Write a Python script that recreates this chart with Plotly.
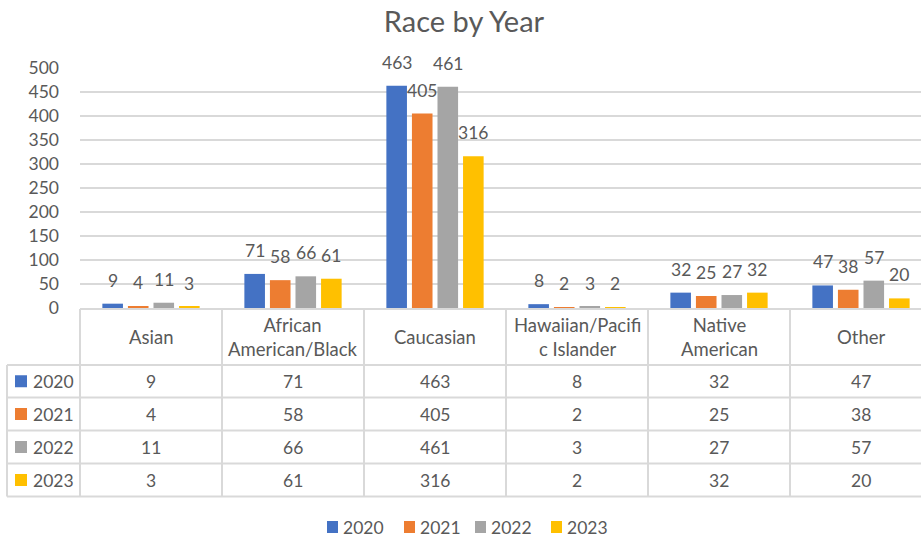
import plotly.graph_objects as go

# ---- data ----
categories = ["Asian", "African American/Black", "Caucasian",
              "Hawaiian/Pacific Islander", "Native American", "Other"]
header_labels = ["Asian", "African<br>American/Black", "Caucasian",
                 "Hawaiian/Pacifi<br>c Islander", "Native<br>American", "Other"]
years = ["2020", "2021", "2022", "2023"]
v2020 = [9, 71, 463, 8, 32, 47]
v2021 = [4, 58, 405, 2, 25, 38]
v2022 = [11, 66, 461, 3, 27, 57]
v2023 = [3, 61, 316, 2, 32, 20]
y_ticks = list(range(0, 501, 50))

series = [v2020, v2021, v2022, v2023]
colors = ["#4472C4", "#ED7D31", "#A5A5A5", "#FFC000"]
TEXT = "#595959"
LINE = "#D9D9D9"
FONT = "Lato"

W, H = 921, 540
ML, MR, MT, MB = 80, 0, 68, 232
plot_w = W - ML - MR
plot_h = H - MT - MB

# x axis: one unit per category, right edge of the last column runs past the page
unit_px = 142.0
x_min = -0.5
x_max = x_min + plot_w / unit_px

bar_w = 0.145
bar_step = 0.18
first_off = -0.3425


def px2x(px):
    return (px - ML) / plot_w


def py2y(py):
    return (H - MB - py) / plot_h


def cat_edge(i):
    # paper x of the left border of category column i
    return (i - 0.5 - x_min) / (x_max - x_min)


def cat_center(i):
    return (i - x_min) / (x_max - x_min)


fig = go.Figure()
xs = list(range(len(categories)))
for k, (yr, vals) in enumerate(zip(years, series)):
    fig.add_trace(go.Bar(
        x=xs, y=vals, name=yr,
        width=bar_w, offset=first_off + k * bar_step,
        marker=dict(color=colors[k], line=dict(width=0)),
        hoverinfo="skip", showlegend=False,
    ))

annotations = []
shapes = []

# value labels above the bars
for k, vals in enumerate(series):
    for i, v in enumerate(vals):
        annotations.append(dict(
            x=i + first_off + k * bar_step + bar_w / 2, y=v,
            xref="x", yref="y", text=str(v), showarrow=False,
            yanchor="bottom", yshift=11,
            font=dict(family=FONT, size=17.5, color=TEXT),
        ))

# data table below the plot
row_edges = [309, 365, 397.5, 430.5, 463.5, 496.5]
table_left = 7
n = len(categories)
right_edge = cat_edge(n)

# horizontal rules
for j, py in enumerate(row_edges):
    x0 = px2x(ML) if j == 0 else px2x(table_left)
    shapes.append(dict(type="line", xref="paper", yref="paper",
                       x0=x0, x1=right_edge, y0=py2y(py), y1=py2y(py),
                       line=dict(color=LINE, width=2)))
# vertical rules
for i in range(n + 1):
    shapes.append(dict(type="line", xref="paper", yref="paper",
                       x0=cat_edge(i), x1=cat_edge(i),
                       y0=py2y(row_edges[0]), y1=py2y(row_edges[-1]),
                       line=dict(color=LINE, width=2)))
shapes.append(dict(type="line", xref="paper", yref="paper",
                   x0=px2x(table_left), x1=px2x(table_left),
                   y0=py2y(row_edges[1]), y1=py2y(row_edges[-1]),
                   line=dict(color=LINE, width=2)))

# header cells
hdr_mid = (row_edges[0] + row_edges[1]) / 2
for i, lab in enumerate(header_labels):
    annotations.append(dict(
        x=cat_center(i), y=py2y(hdr_mid), xref="paper", yref="paper",
        text=lab, showarrow=False, xanchor="center", yanchor="middle",
        font=dict(family=FONT, size=18.5, color=TEXT),
    ))

# value rows with year keys
for k, (yr, vals) in enumerate(zip(years, series)):
    mid = (row_edges[k + 1] + row_edges[k + 2]) / 2
    shapes.append(dict(type="rect", xref="paper", yref="paper",
                       x0=px2x(15), x1=px2x(27),
                       y0=py2y(mid - 6), y1=py2y(mid + 6),
                       fillcolor=colors[k], line=dict(width=0)))
    annotations.append(dict(
        x=px2x(31), y=py2y(mid), xref="paper", yref="paper",
        text=yr, showarrow=False, xanchor="left", yanchor="middle",
        font=dict(family=FONT, size=17.5, color=TEXT),
    ))
    for i, v in enumerate(vals):
        annotations.append(dict(
            x=cat_center(i), y=py2y(mid), xref="paper", yref="paper",
            text=str(v), showarrow=False, xanchor="center", yanchor="middle",
            font=dict(family=FONT, size=17.5, color=TEXT),
        ))

# legend row along the bottom
legend_x = [327, 404, 475, 551]
legend_y = 527
for k, yr in enumerate(years):
    x0 = legend_x[k]
    shapes.append(dict(type="rect", xref="paper", yref="paper",
                       x0=px2x(x0), x1=px2x(x0 + 11),
                       y0=py2y(legend_y - 6), y1=py2y(legend_y + 6),
                       fillcolor=colors[k], line=dict(width=0)))
    annotations.append(dict(
        x=px2x(x0 + 14), y=py2y(legend_y), xref="paper", yref="paper",
        text=yr, showarrow=False, xanchor="left", yanchor="middle",
        font=dict(family=FONT, size=17.5, color=TEXT),
    ))

fig.update_layout(
    width=W, height=H,
    margin=dict(l=ML, r=MR, t=MT, b=MB, pad=0, autoexpand=False),
    paper_bgcolor="white", plot_bgcolor="white",
    barmode="overlay",
    title=dict(text="Race by Year", xref="container", yref="container",
               x=464 / W, xanchor="center", y=1 - 22 / H, yanchor="middle",
               font=dict(family=FONT, size=29, color=TEXT)),
    xaxis=dict(range=[x_min, x_max], showticklabels=False, showgrid=False,
               zeroline=False, showline=False, ticks="", fixedrange=True),
    yaxis=dict(range=[0, 500], tickvals=y_ticks, showgrid=True,
               gridcolor=LINE, gridwidth=2, zeroline=False, showline=False,
               ticks="", ticklabelstandoff=20,
               tickfont=dict(family=FONT, size=17.5, color=TEXT)),
    annotations=annotations,
    shapes=shapes,
    showlegend=False,
)

fig.write_html("out.html")
